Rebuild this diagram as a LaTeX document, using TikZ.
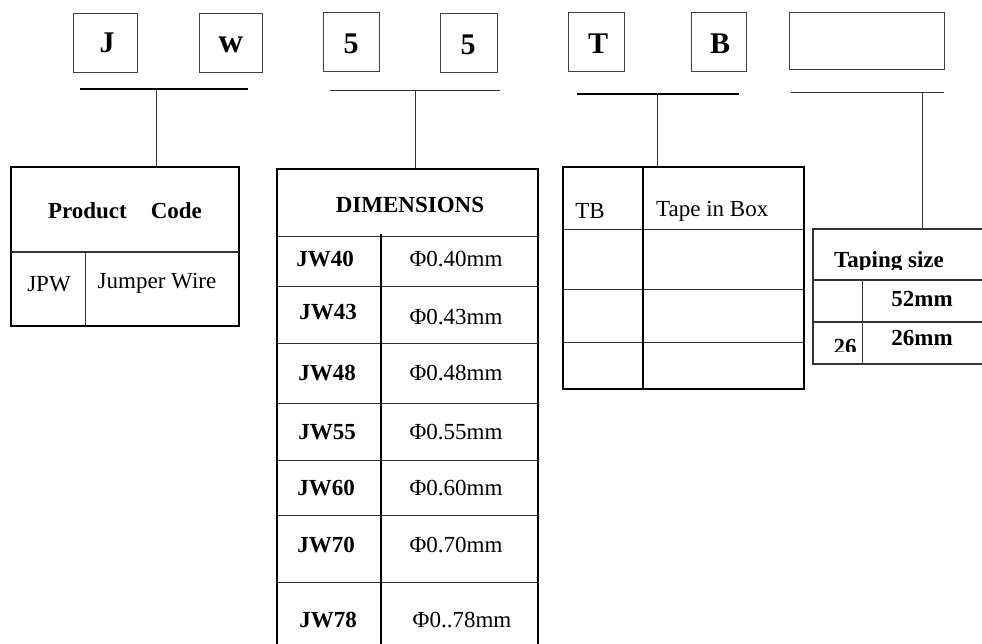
\documentclass[tikz,border=0pt]{standalone}
\usepackage{fontspec}
\setmainfont{Liberation Serif}
\begin{document}
\begin{tikzpicture}[x=1pt,y=-1pt,
  letterbox/.style={draw=black!75, line width=1pt, inner sep=0pt, font=\fontsize{30}{32}\selectfont\bfseries},
  tabframe/.style={draw=black, line width=2pt, inner sep=0pt},
  thinrule/.style={draw=black!80, line width=1pt},
  thickrule/.style={draw=black, line width=2pt},
  bar/.style={draw=black, line width=2.5pt},
  thinbar/.style={draw=black!80, line width=1pt},
  txt/.style={inner sep=0pt, font=\fontsize{23}{26}\selectfont},
  btxt/.style={inner sep=0pt, font=\fontsize{23}{26}\selectfont\bfseries}]
\useasboundingbox (0,0) rectangle (982,643);
\clip (0,0) rectangle (982,643);
% letter boxes
\node[letterbox, minimum width=64pt, minimum height=59pt] (bJ) at (105,42.5) {};
\node[letterbox, minimum width=63pt, minimum height=59pt] (bW) at (230.5,42.5) {};
\node[letterbox, minimum width=56pt, minimum height=59pt] (b5a) at (351,41.5) {};
\node[letterbox, minimum width=57pt, minimum height=59pt] (b5b) at (468.5,42.5) {};
\node[letterbox, minimum width=56pt, minimum height=59pt] (bT) at (596,41.5) {};
\node[letterbox, minimum width=55pt, minimum height=59pt] (bB) at (718.5,41.5) {};
\node[letterbox, minimum width=155pt, minimum height=57pt] (bE) at (866.5,40.5) {};
\node[letterbox, draw=none] (tJ) at (107,42.5) {J};
\node[letterbox, draw=none, font=\fontsize{34}{36}\selectfont\bfseries] (tW) at (231,44.5) {w};
\node[letterbox, draw=none] (t5a) at (351,44) {5};
\node[letterbox, draw=none] (t5b) at (468,45) {5};
\node[letterbox, draw=none] (tT) at (598,43.5) {T};
\node[letterbox, draw=none] (tB) at (720,43.5) {B};
% bars
\coordinate (l1a) at (80,89); \coordinate (l1b) at (248,89); \coordinate (v1) at (156,89);
\coordinate (l2a) at (330,90); \coordinate (l2b) at (500,90); \coordinate (v2) at (415,90);
\coordinate (l3a) at (577,94); \coordinate (l3b) at (739,94); \coordinate (v3) at (657,93);
\coordinate (l4a) at (791,92); \coordinate (l4b) at (944,92); \coordinate (v4) at (922,92);
\draw[bar] (l1a) -- (l1b);
\draw[thinbar] (l2a) -- (l2b);
\draw[bar] (l3a) -- (l3b);
\draw[thinbar] (l4a) -- (l4b);
% product code table
\node[tabframe, minimum width=228pt, minimum height=159pt] (pt) at (125,246.5) {};
\draw[thinrule] (v1) -- (v1 |- pt.north);
\draw[thinrule, line width=1.3pt] (11,252) -- (239,252);
\draw[thinrule] (85,252) -- (85,326);
\node[btxt] (pth) at (125,211) {Product\hspace{24pt}Code};
\node[txt] (jpw) at (49,284) {JPW};
\node[txt] (jw) at (157,283) {Jumper Wire};
% dimensions table
\node[tabframe, minimum width=261pt, minimum height=491pt] (dt) at (407.5,414.5) {};
\draw[thinrule] (v2) -- (v2 |- dt.north);
\foreach \yy in {236,286,343,403,460,515,582} \draw[thinrule] (277,\yy) -- (538,\yy);
\draw[thickrule] (381,234) -- (381,660);
\node[btxt] (dth) at (410,205) {DIMENSIONS};
\node[btxt] (c1) at (325,259) {JW40}; \node[txt] (d1) at (456,259) {Φ0.40mm};
\node[btxt] (c2) at (328,312) {JW43}; \node[txt] (d2) at (456,317) {Φ0.43mm};
\node[btxt] (c3) at (327,373) {JW48}; \node[txt] (d3) at (456,373) {Φ0.48mm};
\node[btxt] (c4) at (327,432) {JW55}; \node[txt] (d4) at (456,432) {Φ0.55mm};
\node[btxt] (c5) at (326,488) {JW60}; \node[txt] (d5) at (456,488) {Φ0.60mm};
\node[btxt] (c6) at (326,545) {JW70}; \node[txt] (d6) at (456,545) {Φ0.70mm};
\node[btxt] (c7) at (328,620) {JW78}; \node[txt] (d7) at (462,620) {Φ0..78mm};
% tape table
\node[tabframe, minimum width=241pt, minimum height=222pt] (tt) at (683.5,278) {};
\draw[thinrule] (v3) -- (v3 |- tt.north);
\foreach \yy in {229,289,342} \draw[thinrule] (563,\yy) -- (804,\yy);
\draw[thickrule] (643,167) -- (643,389);
\node[txt] (tb) at (590,211) {TB};
\node[txt, anchor=west] (tib) at (656,211) {Tape in Box};
% taping size table
\node[draw=black!80, line width=1.5pt, inner sep=0pt, minimum width=187pt, minimum height=135pt] (tz) at (906.5,296.5) {};
\draw[thinrule] (v4) -- (v4 |- tz.north);
\draw[thinrule, line width=1.3pt] (813,280) -- (1000,280);
\draw[thinrule, line width=1.3pt] (813,322) -- (1000,322);
\draw[thinrule] (862,280) -- (862,364);
\begin{scope}
\clip (813,229) rectangle (1000,269);
\node[btxt] (tzh) at (889,262) {Taping size};
\end{scope}
\begin{scope}
\clip (813,323) rectangle (860,351);
\node[btxt] (z26) at (845,347) {26};
\end{scope}
\node[btxt] (z52) at (922,299) {52mm};
\node[btxt] (z26b) at (922,338) {26mm};
\end{tikzpicture}
\end{document}
